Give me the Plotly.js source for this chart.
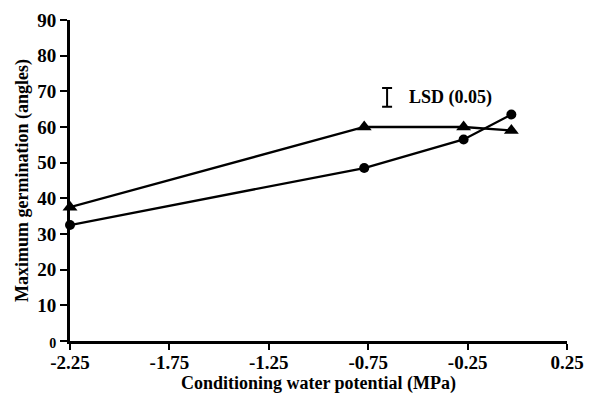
<!DOCTYPE html>
<html>
<head>
<meta charset="utf-8">
<script src="https://cdn.plot.ly/plotly-3.0.1.min.js"></script>
<style>html,body{margin:0;padding:0;background:#fff}#chart{width:592px;height:398px}</style>
</head>
<body>
<div id="chart"></div>
<script>
// Conditioning water potential (MPa)
const triX = [-2.25, -0.77, -0.27, -0.03];
const triY = [37.5, 60.0, 60.0, 59.0];
const circX = [-2.25, -0.77, -0.27, -0.03];
const circY = [32.5, 48.5, 56.5, 63.5];
const lsdX = [-0.655];
const lsdY = [68.3];
const lsdHalf = [2.6];
const xTicks = [-2.25, -1.75, -1.25, -0.75, -0.25, 0.25];
const xTickText = ['-2.25', '-1.75', '-1.25', '-0.75', '-0.25', '0.25'];
const yTicks = [0, 10, 20, 30, 40, 50, 60, 70, 80, 90];
const yTickText = ['<span style="font-size:14px">0</span>', '10', '20', '30', '40', '50', '60', '70', '80', '90'];

const FAM = 'Liberation Serif, Times New Roman, serif';
function f(size) { return {family: FAM, size: size, color: '#000', weight: 'bold'}; }

const traces = [
  {x: triX, y: triY, mode: 'lines+markers', type: 'scatter', cliponaxis: false,
   line: {color: '#000', width: 2.3}, marker: {symbol: 'triangle-up', size: 13, color: '#000'}},
  {x: circX, y: circY, mode: 'lines+markers', type: 'scatter', cliponaxis: false,
   line: {color: '#000', width: 2.3}, marker: {symbol: 'circle', size: 10, color: '#000'}},
  {x: lsdX, y: lsdY, mode: 'markers', type: 'scatter', cliponaxis: false,
   marker: {size: 1, color: 'rgba(0,0,0,0)'},
   error_y: {type: 'data', array: lsdHalf, visible: true, color: '#000', thickness: 2, width: 5}}
];

const layout = {
  width: 592, height: 398,
  margin: {l: 70, r: 25, t: 20, b: 57},
  paper_bgcolor: '#fff', plot_bgcolor: '#fff',
  showlegend: false,
  font: f(18),
  xaxis: {
    range: [-2.25, 0.25], tickvals: xTicks, ticktext: xTickText,
    showgrid: false, zeroline: false, showline: true, linecolor: '#000', linewidth: 3,
    ticks: 'outside', ticklen: 6, tickwidth: 2, tickcolor: '#000',
    ticklabelstandoff: -4,
    tickfont: f(19),
    title: {text: 'Conditioning water potential (MPa)', font: f(18), standoff: 2}
  },
  yaxis: {
    range: [0, 90], tickvals: yTicks, ticktext: yTickText,
    showgrid: false, zeroline: false, showline: true, linecolor: '#000', linewidth: 3,
    ticks: 'outside', ticklen: 7, tickwidth: 2, tickcolor: '#000',
    tickfont: f(19),
    title: {text: 'Maximum germination (angles)', font: f(18), standoff: 4}
  },
  annotations: [
    {x: -0.555, y: 68.4, xref: 'x', yref: 'y', xanchor: 'left', yanchor: 'middle', showarrow: false,
     text: 'LSD (0.05)', font: f(18)}
  ]
};

Plotly.newPlot('chart', traces, layout, {displayModeBar: false, staticPlot: true});
</script>
</body>
</html>
